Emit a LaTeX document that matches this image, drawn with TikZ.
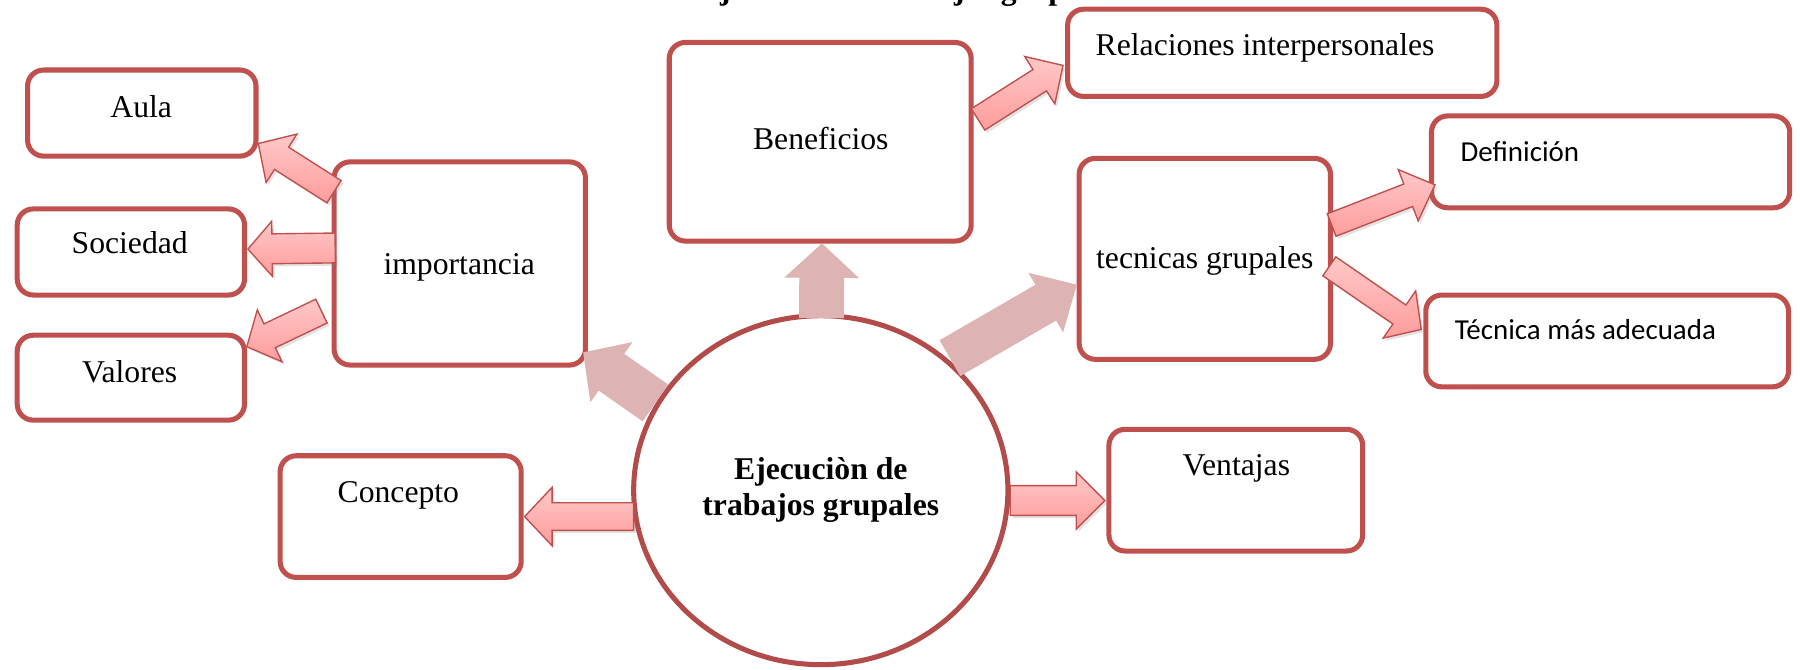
\documentclass[tikz,border=0pt]{standalone}
\usepackage{fontspec}
\setmainfont{Liberation Serif}
\newfontfamily\calfont{Carlito}
\usetikzlibrary{calc,shapes.geometric,shadows}
\definecolor{boxred}{HTML}{C0504D}
\definecolor{circred}{HTML}{B24B49}
\definecolor{pinkA}{HTML}{FFC8C8}
\definecolor{pinkB}{HTML}{FF9C9C}
\definecolor{dusty}{HTML}{DDB3B3}
\tikzset{
  box/.style={draw=boxred, line width=2.2pt, rounded corners=7pt, fill=white, inner sep=0pt, outer sep=0pt},
  lbl/.style={font=\fontsize{13.8}{15.5}\selectfont, anchor=base, inner sep=0pt},
  clbl/.style={font=\calfont\fontsize{12.6}{15}\selectfont, anchor=base west, inner sep=0pt},
  pinkarr/.style={draw=boxred, line width=0.6pt, top color=pinkA, bottom color=pinkB, line join=miter,
    drop shadow={opacity=0.22, shadow xshift=1pt, shadow yshift=-1.2pt}},
  bigarr/.style={fill=dusty, draw=none},
  blockarr/.style n args={3}{to path={let \p1=(\tikztostart), \p2=(\tikztotarget),
      \n1={atan2(\y2-\y1,\x2-\x1)}, \n2={veclen(\x2-\x1,\y2-\y1)}, \n3={\n2-#3} in
      ($(\p1)+(\n1+90:#1)$) -- ($(\p1)+(\n1:\n3)+(\n1+90:#1)$) -- ($(\p1)+(\n1:\n3)+(\n1+90:#2)$)
      -- (\p2) -- ($(\p1)+(\n1:\n3)+(\n1-90:#2)$) -- ($(\p1)+(\n1:\n3)+(\n1-90:#1)$)
      -- ($(\p1)+(\n1-90:#1)$) -- cycle}}
}
\begin{document}
\begin{tikzpicture}[x=0.5pt,y=0.5pt]
\useasboundingbox (0,0) rectangle (1568,-583);
\fill[white] (0,0) rectangle (1568,-583);

% boxes
\node[box, minimum width=99.5pt, minimum height=37.5pt] (aula) at (123.5,-98.5) {};
\node[box, minimum width=99pt, minimum height=37.5pt] (soc) at (114,-219.5) {};
\node[box, minimum width=99pt, minimum height=37pt] (val) at (114,-329) {};
\node[box, minimum width=109.5pt, minimum height=88.5pt] (imp) at (400.5,-229.5) {};
\node[box, minimum width=131.5pt, minimum height=86.5pt] (ben) at (714.5,-123.5) {};
\node[box, minimum width=187pt, minimum height=38pt] (rel) at (1117,-46) {};
\node[box, minimum width=109.5pt, minimum height=87.5pt] (tec) at (1049.5,-225.5) {};
\node[box, minimum width=156pt, minimum height=40pt] (def) at (1403,-141) {};
\node[box, minimum width=158pt, minimum height=40pt] (tma) at (1400,-297) {};
\node[box, minimum width=110.5pt, minimum height=53pt] (ven) at (1076.5,-427) {};
\node[box, minimum width=105pt, minimum height=53pt] (con) at (349,-450) {};

% labels
\node[lbl] (aulaT) at (123,-102) {Aula};
\node[lbl] (socT) at (113,-221) {Sociedad};
\node[lbl] (valT) at (113,-333) {Valores};
\node[lbl] (impT) at (400,-239) {importancia};
\node[lbl] (benT) at (715,-130) {Beneficios};
\node[lbl] (relT) at (1102,-48) {Relaciones interpersonales};
\node[lbl] (tecT) at (1049.5,-234) {tecnicas grupales};
\node[clbl] (defT) at (1272,-141) {Definición};
\node[clbl] (tmaT) at (1267,-296) {Técnica más adecuada};
\node[lbl] (venT) at (1077,-414) {Ventajas};
\node[lbl] (conT) at (347,-438) {Concepto};

% central ellipse
\node[ellipse, draw=circred, line width=2.2pt, fill=white, minimum width=163pt, minimum height=152pt,
  inner sep=0pt, outer sep=0pt, align=center, font=\bfseries\fontsize{13.8}{15.5}\selectfont]
  (c) at (715,-427) {Ejecuciòn de\\trabajos grupales};

% title, cut off by the top edge
\begin{scope}
\clip (0,0) rectangle (1568,-583);
\node[font=\bfseries\fontsize{13.8}{15.5}\selectfont, anchor=base, inner sep=0pt] (title) at (791,0.5) {Ejecución de trabajos grupales};
\end{scope}

% big flat arrows
\path[bigarr] ($(c.north)+(0.5,-2)$) to[blockarr={9.75pt}{16.25pt}{15pt}] ($(ben.south)+(1.5,-2)$);
\path[bigarr] ($(c.center)+(-144,76)$) to[blockarr={9.75pt}{16pt}{15pt}] ($(imp.south east)+(-2,11)$);
\path[bigarr] ($(c.center)+(112.5,115)$) to[blockarr={9pt}{15pt}{15.5pt}] ($(tec.west)+(-2,-22.5)$);

% pink arrows
\draw[pinkarr] ($(imp.west)+(0,62.5)$) to[blockarr={5.75pt}{12.5pt}{12pt}] ($(aula.east)+(2,-26.5)$);
\draw[pinkarr] ($(imp.west)+(1,13.5)$) to[blockarr={6.5pt}{12pt}{10.5pt}] ($(soc.east)+(3,2.5)$);
\draw[pinkarr] ($(imp.west)+(-11,-41.5)$) to[blockarr={5.75pt}{12.5pt}{11pt}] ($(val.east)+(2,27)$);
\draw[pinkarr] ($(ben.east)+(6,19.5)$) to[blockarr={5.5pt}{12.25pt}{12pt}] ($(rel.west)+(-4,-11)$);
\draw[pinkarr] ($(tec.east)+(1,29.5)$) to[blockarr={5.25pt}{12pt}{12.5pt}] ($(def.west)+(3,-20)$);
\draw[pinkarr] ($(tec.east)+(-1,-6.5)$) to[blockarr={5pt}{12.5pt}{11.5pt}] ($(tma.west)+(-4,10)$);
\draw[pinkarr] ($(c.west)+(0,-23)$) to[blockarr={6pt}{12.75pt}{12pt}] ($(con.east)+(3,0)$);
\draw[pinkarr] ($(c.east)+(2,-9)$) to[blockarr={6.5pt}{12.5pt}{12.5pt}] ($(ven.west)+(-3.5,-9)$);
\end{tikzpicture}
\end{document}
